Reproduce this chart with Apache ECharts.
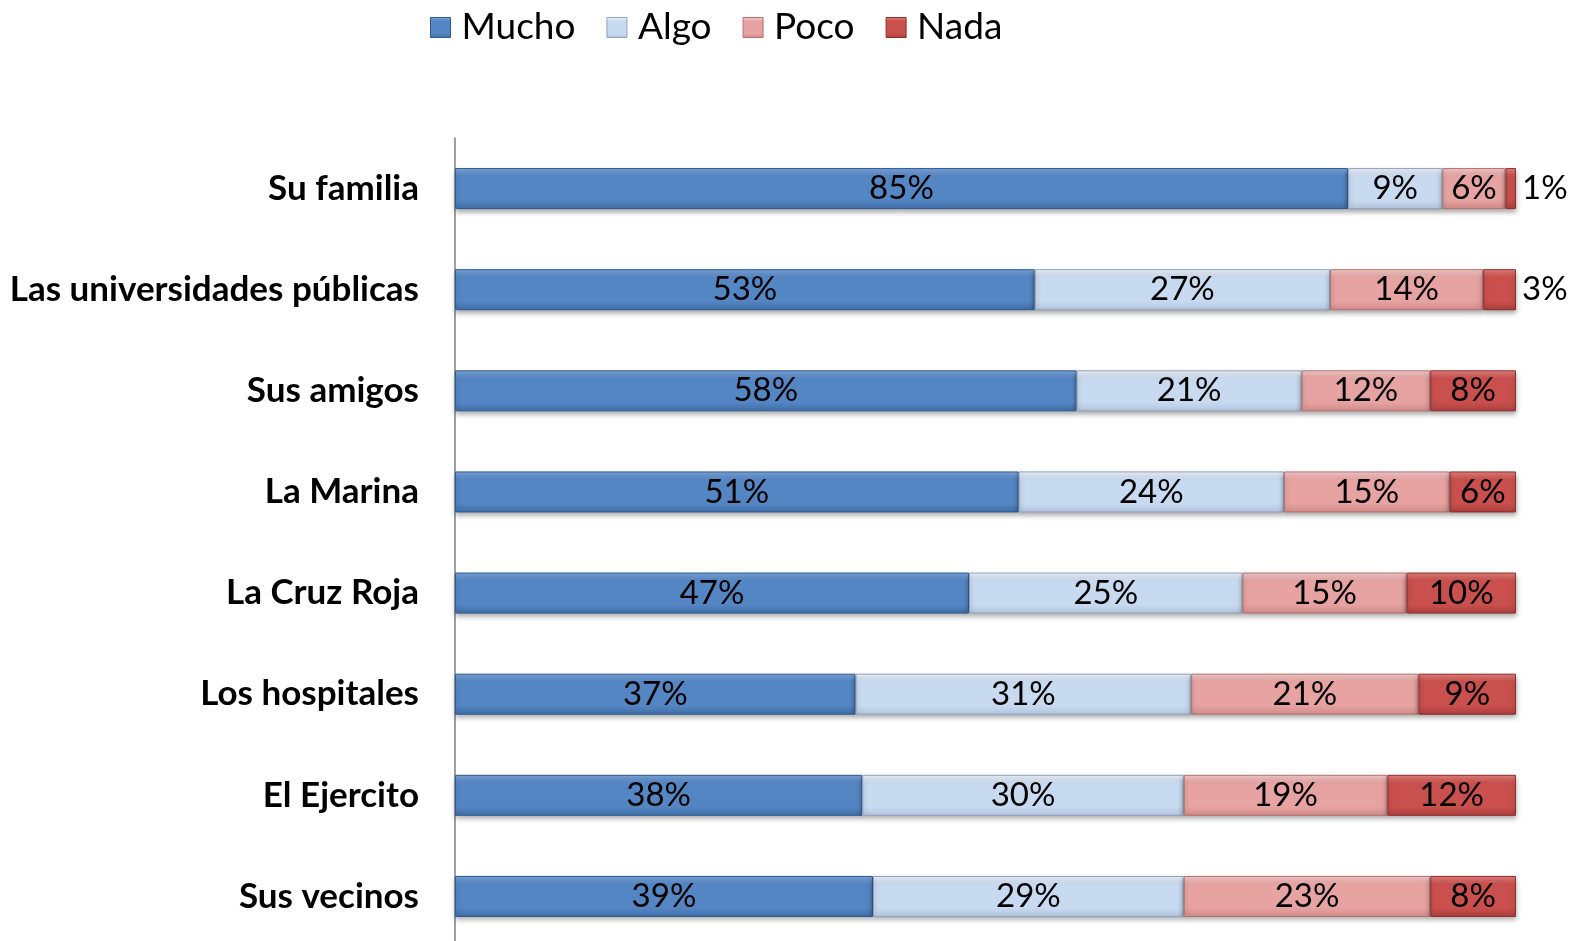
<!DOCTYPE html>
<html>
<head>
<meta charset="utf-8">
<script src="https://cdn.jsdelivr.net/npm/echarts@6/dist/echarts.min.js"></script>
<style>
html,body{margin:0;padding:0;background:#fff;}
#chart{width:1573px;height:941px;}
</style>
</head>
<body>
<div id="chart"></div>
<script>
const categories = ["Su familia","Las universidades públicas","Sus amigos","La Marina","La Cruz Roja","Los hospitales","El Ejercito","Sus vecinos"];
const seriesNames = ["Mucho","Algo","Poco","Nada"];
const mucho = [85,53,58,51,47,37,38,39];
const algo  = [9,27,21,24,25,31,30,29];
const poco  = [6,14,12,15,15,21,19,23];
const nada  = [1,3,8,6,10,9,12,8];

const raw = [mucho, algo, poco, nada];
const totals = categories.map((c,i)=>raw.reduce((s,a)=>s+a[i],0));

const palettes = [
  ['#7ea8de','#5586c4','#3f6ea8','#2f5a8e'],
  ['#f2f6fc','#c8daf0','#b2c5df','#8ea3bd'],
  ['#f7cfce','#e6a3a1','#d28b89','#b07270'],
  ['#e88380','#c9504d','#ad3f3c','#8a2f2d']
];
function grad(p){
  return {type:'linear',x:0,y:0,x2:0,y2:1,colorStops:[
    {offset:0,color:p[0]},{offset:0.2,color:p[1]},{offset:0.78,color:p[1]},{offset:1,color:p[2]}]};
}
const FONT = 'Lato, "Open Sans", sans-serif';

const series = raw.map((arr,si)=>({
  name: seriesNames[si],
  type:'bar',
  stack:'total',
  barWidth:41,
  itemStyle:{color:grad(palettes[si]),borderColor:palettes[si][3],borderWidth:1,
    shadowColor:'rgba(0,0,0,0.35)',shadowBlur:5,shadowOffsetY:3},
  data: arr.map((v,i)=>{
    const item = {value: v/totals[i]*100, raw: v};
    if (v < 5) item.label = {position:'right', distance:6};
    return item;
  }),
  label:{show:true,position:'inside',fontFamily:FONT,fontSize:33,color:'#000',
    padding:[3,0,0,0],
    formatter:(p)=>p.data.raw+'%'}
}));

const chart = echarts.init(document.getElementById('chart'),null,{renderer:'canvas'});
chart.setOption({
  backgroundColor:'#fff',
  animation:false,
  legend:{
    left:425, top:4,
    itemWidth:20,itemHeight:20,itemGap:31,
    textStyle:{fontFamily:FONT,fontSize:37,color:'#000',padding:[0,0,0,6]},
    data: seriesNames.map((n,si)=>({name:n,icon:'rect',itemStyle:{color:grad(palettes[si]),borderColor:palettes[si][3],borderWidth:1}}))
  },
  grid:{left:455,right:57,top:138,height:809,containLabel:false,outerBoundsMode:'none'},
  xAxis:{type:'value',min:0,max:100,show:false},
  yAxis:{type:'category',data:categories,inverse:true,
    axisLine:{show:true,lineStyle:{color:'#808080',width:1.5}},
    axisTick:{show:false},
    axisLabel:{fontFamily:FONT,fontWeight:'bold',fontSize:35,color:'#000',margin:36}
  },
  series: series
});
</script>
</body>
</html>
